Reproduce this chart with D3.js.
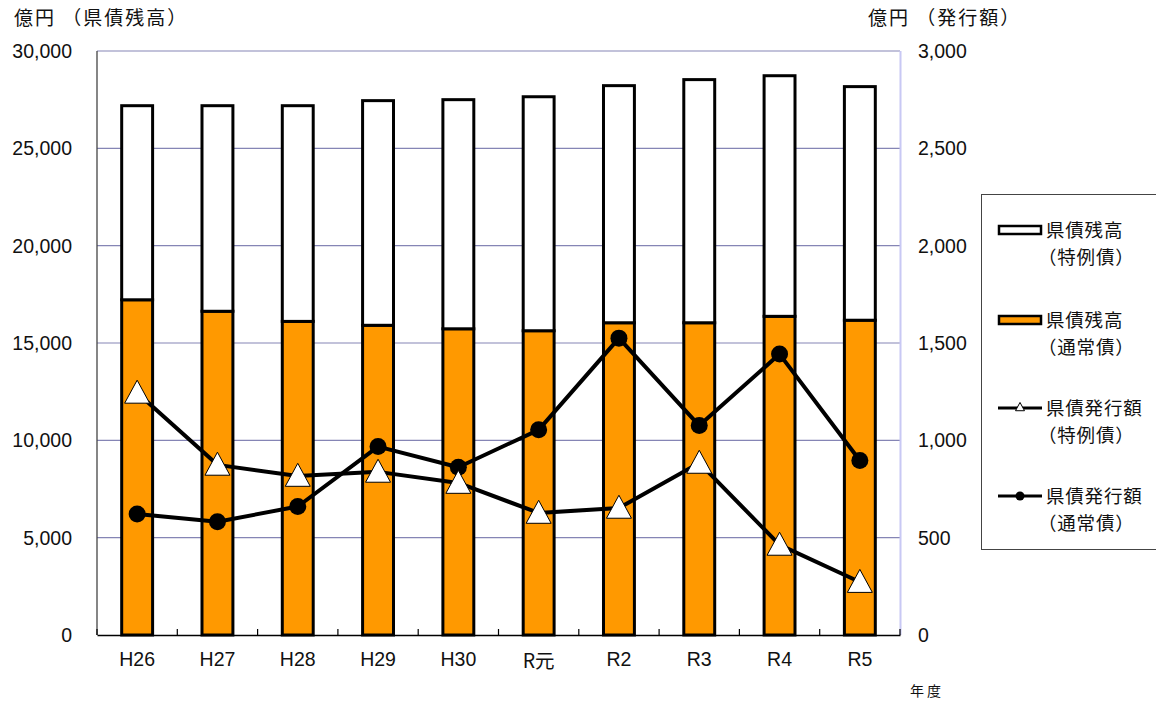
<!DOCTYPE html>
<html lang="ja">
<head>
<meta charset="utf-8">
<script src="https://cdn.jsdelivr.net/npm/d3@7/dist/d3.min.js"></script>
<style>
  html, body { margin: 0; padding: 0; background: #fff; }
  svg { display: block; }
  .jp { font-family: "Noto Sans CJK JP", "Noto Sans", sans-serif; }
  .num { font-family: "Liberation Sans", Arial, sans-serif; }
</style>
</head>
<body>
<svg id="chart" width="1156" height="701"></svg>
<script>
// 年度
const years = ["H26", "H27", "H28", "H29", "H30", "R元", "R2", "R3", "R4", "R5"];
// 県債残高（億円）
const balanceRegular = [17220, 16630, 16110, 15910, 15730, 15630, 16040, 16040, 16370, 16170];
const balanceSpecial = [9970, 10560, 11080, 11540, 11770, 12020, 12180, 12490, 12360, 12000];
// 県債発行額（億円）
const issueSpecial = [1244, 874, 817, 838, 781, 627, 653, 884, 463, 272];
const issueRegular = [622, 582, 660, 968, 862, 1054, 1525, 1076, 1443, 896];
// 軸目盛
const leftTicks = [0, 5000, 10000, 15000, 20000, 25000, 30000];
const rightTicks = [0, 500, 1000, 1500, 2000, 2500, 3000];

const svg = d3.select("#chart");
const plot = { left: 97, right: 900, top: 51, bottom: 635 };

const x = d3.scaleBand().domain(years).range([plot.left, plot.right]).padding(0);
const yL = d3.scaleLinear().domain([0, 30000]).range([plot.bottom, plot.top]);
const yR = d3.scaleLinear().domain([0, 3000]).range([plot.bottom, plot.top]);
const barW = x.bandwidth() * 0.385;
const cx = d => x(d) + x.bandwidth() / 2;
const fmt = d3.format(",");

// 目盛線
svg.append("g")
  .selectAll("line")
  .data(leftTicks.filter(t => t > 0))
  .join("line")
  .attr("x1", plot.left).attr("x2", plot.right)
  .attr("y1", d => yL(d)).attr("y2", d => yL(d))
  .attr("stroke", "#8585b5").attr("stroke-width", 1.2);

// 右軸の線
svg.append("line")
  .attr("x1", plot.right + 0.5).attr("x2", plot.right + 0.5)
  .attr("y1", plot.top).attr("y2", plot.bottom)
  .attr("stroke", "#c8c8f4").attr("stroke-width", 2);

// 左軸の線
svg.append("line")
  .attr("x1", plot.left).attr("x2", plot.left)
  .attr("y1", plot.top).attr("y2", plot.bottom)
  .attr("stroke", "#444").attr("stroke-width", 1.3);

// 積み上げ棒
const stackData = years.map((yr, i) => ({ year: yr, regular: balanceRegular[i], special: balanceSpecial[i] }));
const series = d3.stack().keys(["regular", "special"])(stackData);
const fills = { regular: "#ff9900", special: "#ffffff" };

svg.append("g")
  .selectAll("g")
  .data(series)
  .join("g")
  .attr("fill", d => fills[d.key])
  .selectAll("rect")
  .data(d => d)
  .join("rect")
  .attr("x", d => cx(d.data.year) - barW / 2)
  .attr("width", barW)
  .attr("y", d => yL(d[1]))
  .attr("height", d => yL(d[0]) - yL(d[1]))
  .attr("stroke", "#000")
  .attr("stroke-width", 3);

// 横軸
const xAxis = d3.axisBottom(x).tickSize(0).tickPadding(17);
const gx = svg.append("g")
  .attr("transform", `translate(0,${plot.bottom})`)
  .call(xAxis)
  .attr("font-size", null)
  .attr("font-family", null);
gx.select(".domain").attr("stroke", "#000").attr("stroke-width", 1.5);
gx.selectAll(".tick text")
  .attr("class", d => d === "R元" ? "jp" : "num")
  .style("font-size", "19.5px")
  .attr("fill", "#111")
  .attr("dy", d => d === "R元" ? "0.82em" : "0.71em");

// 区切り目盛（内向き）
const bounds = years.map(d => x(d)).concat([plot.right]);
svg.append("g")
  .selectAll("line")
  .data(bounds)
  .join("line")
  .attr("x1", d => d).attr("x2", d => d)
  .attr("y1", plot.bottom).attr("y2", plot.bottom - 6)
  .attr("stroke", "#000").attr("stroke-width", 1.2);

// 左軸ラベル
svg.append("g")
  .selectAll("text")
  .data(leftTicks)
  .join("text")
  .attr("class", "num")
  .attr("x", 72).attr("y", d => yL(d) + 7)
  .attr("text-anchor", "end")
  .style("font-size", "19.5px")
  .attr("fill", "#111")
  .text(d => fmt(d));

// 右軸ラベル
svg.append("g")
  .selectAll("text")
  .data(rightTicks)
  .join("text")
  .attr("class", "num")
  .attr("x", 918).attr("y", d => yR(d) + 7)
  .attr("text-anchor", "start")
  .style("font-size", "19.5px")
  .attr("fill", "#111")
  .text(d => fmt(d));

// 折れ線
const lineGen = d3.line().x((d, i) => cx(years[i])).y(d => yR(d));
svg.append("path").datum(issueRegular)
  .attr("d", lineGen).attr("fill", "none")
  .attr("stroke", "#000").attr("stroke-width", 4).attr("stroke-linejoin", "round");
svg.append("path").datum(issueSpecial)
  .attr("d", lineGen).attr("fill", "none")
  .attr("stroke", "#000").attr("stroke-width", 4).attr("stroke-linejoin", "round");

// 通常債マーカー（丸）
svg.append("g")
  .selectAll("circle")
  .data(issueRegular)
  .join("circle")
  .attr("cx", (d, i) => cx(years[i]))
  .attr("cy", d => yR(d))
  .attr("r", 8.5)
  .attr("fill", "#000");

// 特例債マーカー（三角）
const tri = (px, py, s) => {
  const h = s * 0.92;
  return `M${px},${py - h * 0.55}L${px + s / 2},${py + h * 0.45}L${px - s / 2},${py + h * 0.45}Z`;
};
svg.append("g")
  .selectAll("path")
  .data(issueSpecial)
  .join("path")
  .attr("d", (d, i) => tri(cx(years[i]), yR(d), 25))
  .attr("fill", "#fff")
  .attr("stroke", "#000")
  .attr("stroke-width", 1);

// 軸タイトル
svg.append("text").attr("class", "jp")
  .attr("x", 14).attr("y", 25)
  .style("font-size", "19px").attr("fill", "#111")
  .attr("letter-spacing", 2)
  .text("億円 （県債残高）");
svg.append("text").attr("class", "jp")
  .attr("x", 868).attr("y", 25)
  .style("font-size", "19px").attr("fill", "#111")
  .attr("letter-spacing", 2)
  .text("億円 （発行額）");
svg.append("text").attr("class", "jp")
  .attr("x", 910).attr("y", 696)
  .style("font-size", "14px").attr("fill", "#111")
  .attr("letter-spacing", 3)
  .text("年度");

// 凡例
const legend = svg.append("g");
legend.append("rect")
  .attr("x", 981.5).attr("y", 194.5)
  .attr("width", 200).attr("height", 355)
  .attr("fill", "#fff").attr("stroke", "#444").attr("stroke-width", 1);

const legendItems = [
  { kind: "bar", fill: "#ffffff", l1: "県債残高", l2: "（特例債）", y: 230 },
  { kind: "bar", fill: "#ff9900", l1: "県債残高", l2: "（通常債）", y: 320 },
  { kind: "tri", l1: "県債発行額", l2: "（特例債）", y: 408 },
  { kind: "dot", l1: "県債発行額", l2: "（通常債）", y: 496 }
];
const li = legend.selectAll("g.item").data(legendItems).join("g").attr("class", "item");
li.filter(d => d.kind === "bar").append("rect")
  .attr("x", 999).attr("y", d => d.y - 4)
  .attr("width", 42).attr("height", 8)
  .attr("fill", d => d.fill).attr("stroke", "#000").attr("stroke-width", 2.5);
li.filter(d => d.kind !== "bar").append("line")
  .attr("x1", 998).attr("x2", 1042)
  .attr("y1", d => d.y).attr("y2", d => d.y)
  .attr("stroke", "#000").attr("stroke-width", 3);
li.filter(d => d.kind === "tri").append("path")
  .attr("d", d => tri(1020, d.y - 1, 9))
  .attr("fill", "#fff").attr("stroke", "#000").attr("stroke-width", 1);
li.filter(d => d.kind === "dot").append("circle")
  .attr("cx", 1020).attr("cy", d => d.y).attr("r", 4.5).attr("fill", "#000");
li.append("text").attr("class", "jp")
  .attr("x", 1046).attr("y", d => d.y + 7)
  .style("font-size", "18.5px").attr("fill", "#111")
  .attr("letter-spacing", 0.8)
  .text(d => d.l1);
li.append("text").attr("class", "jp")
  .attr("x", 1038).attr("y", d => d.y + 34)
  .style("font-size", "18.5px").attr("fill", "#111")
  .attr("letter-spacing", 0.8)
  .text(d => d.l2);
</script>
</body>
</html>
